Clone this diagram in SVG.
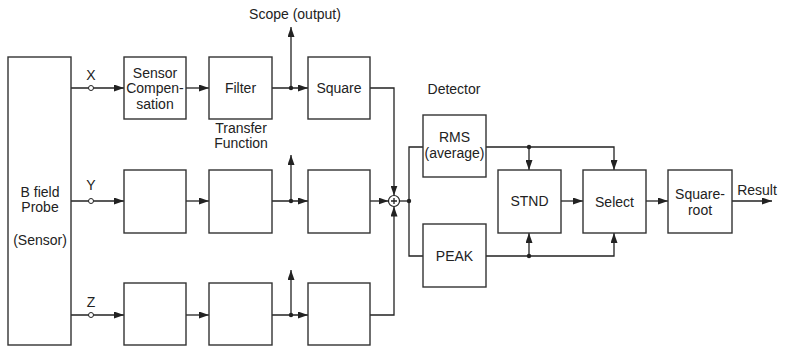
<svg xmlns="http://www.w3.org/2000/svg" width="787" height="347" viewBox="0 0 787 347">
<style>
.box{fill:#fff;stroke:#333;stroke-width:1.4}
.ln{fill:none;stroke:#222;stroke-width:1.3}
.arr{marker-end:url(#ah)}
.t{font-family:"Liberation Sans",Arial,sans-serif;font-size:14px;fill:#222;text-anchor:middle}
.dot{fill:#222}
.tap{fill:#fff;stroke:#222;stroke-width:1}
</style>
<defs>
<marker id="ah" markerUnits="userSpaceOnUse" markerWidth="10" markerHeight="7" refX="10" refY="3.5" orient="auto">
<path d="M0,0 L10,3.5 L0,7 Z" fill="#222"/>
</marker>
</defs>
<rect width="787" height="347" fill="#fff"/>
<g id="connectors">
<path class="ln arr" d="M71,88 H124"/>
<path class="ln arr" d="M186,88 H209"/>
<path class="ln arr" d="M272,88 H308"/>
<path class="ln arr" d="M291,88 V27"/>
<path class="ln arr" d="M370,88 H394 V195.5"/>
<path class="ln arr" d="M71,201 H124"/>
<path class="ln arr" d="M186,201 H209"/>
<path class="ln arr" d="M272,201 H308"/>
<path class="ln arr" d="M291,201 V155"/>
<path class="ln arr" d="M370,201 H388.5"/>
<path class="ln arr" d="M71,315 H124"/>
<path class="ln arr" d="M186,315 H209"/>
<path class="ln arr" d="M272,315 H308"/>
<path class="ln arr" d="M291,315 V270"/>
<path class="ln arr" d="M370,315 H394 V206.5"/>
<path class="ln" d="M399.5,201 H409"/>
<path class="ln" d="M423,147 H409 V256 H423"/>
<path class="ln arr" d="M486,147 H614 V170"/>
<path class="ln arr" d="M529,147 V170"/>
<path class="ln arr" d="M486,256 H614 V233"/>
<path class="ln arr" d="M529,256 V233"/>
<path class="ln arr" d="M561,201 H583"/>
<path class="ln arr" d="M646,201 H668"/>
<path class="ln arr" d="M732,201 H772"/>
<circle class="dot" cx="291" cy="88" r="2.2"/>
<circle class="dot" cx="291" cy="201" r="2.2"/>
<circle class="dot" cx="291" cy="315" r="2.2"/>
<circle class="dot" cx="409" cy="201" r="2.2"/>
<circle class="dot" cx="529" cy="147" r="2.2"/>
<circle class="dot" cx="529" cy="256" r="2.2"/>
<circle class="tap" cx="91" cy="88" r="2.5"/>
<circle class="tap" cx="91" cy="201" r="2.5"/>
<circle class="tap" cx="91" cy="315" r="2.5"/>
</g>
<g id="probe"><rect class="box" x="8" y="57" width="63" height="288"/>
<text class="t" x="40" y="197">B field</text><text class="t" x="40" y="212">Probe</text><text class="t" x="40" y="245">(Sensor)</text></g>
<g id="labels">
<text class="t" x="91" y="80">X</text>
<text class="t" x="91" y="190">Y</text>
<text class="t" x="91" y="307">Z</text>
<text class="t" x="295" y="19">Scope (output)</text>
<text class="t" x="241" y="133">Transfer</text>
<text class="t" x="241" y="148">Function</text>
<text class="t" x="454" y="94">Detector</text>
<text class="t" x="757" y="195">Result</text>
</g>
<g id="comp-x"><rect class="box" x="124" y="57" width="62" height="62"/>
<text class="t" x="155" y="78">Sensor</text><text class="t" x="155" y="93">Compen-</text><text class="t" x="155" y="109">sation</text></g>
<g id="filter-x"><rect class="box" x="209" y="57" width="63" height="62"/><text class="t" x="240.5" y="93">Filter</text></g>
<g id="square-x"><rect class="box" x="308" y="57" width="62" height="62"/><text class="t" x="339" y="93">Square</text></g>
<g id="comp-y"><rect class="box" x="124" y="170" width="62" height="63"/></g>
<g id="filter-y"><rect class="box" x="209" y="170" width="63" height="63"/></g>
<g id="square-y"><rect class="box" x="308" y="170" width="62" height="63"/></g>
<g id="comp-z"><rect class="box" x="124" y="283" width="62" height="62"/></g>
<g id="filter-z"><rect class="box" x="209" y="283" width="63" height="62"/></g>
<g id="square-z"><rect class="box" x="308" y="283" width="62" height="62"/></g>
<g id="sum"><circle cx="394" cy="201" r="5.5" fill="#fff" stroke="#222" stroke-width="1.2"/>
<path class="ln" d="M391,201 H397 M394,198 V204" stroke-width="1"/></g>
<g id="rms"><rect class="box" x="423" y="115" width="63" height="62"/>
<text class="t" x="454.5" y="142">RMS</text><text class="t" x="454.5" y="158">(average)</text></g>
<g id="peak"><rect class="box" x="423" y="224" width="63" height="63"/><text class="t" x="454.5" y="261">PEAK</text></g>
<g id="stnd"><rect class="box" x="498" y="170" width="63" height="63"/><text class="t" x="529.5" y="206">STND</text></g>
<g id="select"><rect class="box" x="583" y="170" width="63" height="63"/><text class="t" x="614.5" y="207">Select</text></g>
<g id="sqrt"><rect class="box" x="668" y="170" width="64" height="63"/>
<text class="t" x="700" y="199">Square-</text><text class="t" x="700" y="215">root</text></g>
</svg>
